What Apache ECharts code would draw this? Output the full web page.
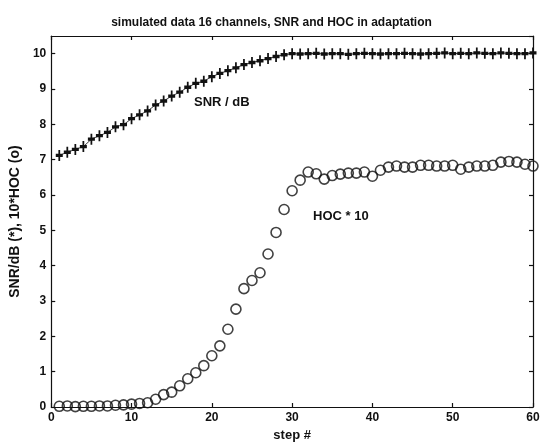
<!DOCTYPE html>
<html>
<head>
<meta charset="utf-8">
<title>SNR and HOC in adaptation</title>
<script src="https://cdn.jsdelivr.net/npm/echarts@6/dist/echarts.min.js"></script>
<style>
html, body { margin: 0; padding: 0; background: #fff; }
#chart { width: 543px; height: 447px; }
</style>
</head>
<body>
<div id="chart"></div>
<script>
// step index 1..60
var steps = [];
for (var i = 1; i <= 60; i++) steps.push(i);

// SNR in dB (+ markers)
var snr = [7.12, 7.21, 7.29, 7.37, 7.58, 7.68, 7.77, 7.93, 7.99, 8.16,
           8.27, 8.38, 8.55, 8.66, 8.80, 8.91, 9.05, 9.16, 9.22, 9.35,
           9.44, 9.52, 9.60, 9.69, 9.75, 9.80, 9.86, 9.92, 9.97, 10.0,
           9.99, 10.0, 10.01, 9.99, 10.0, 10.0, 9.98, 10.0, 10.01, 10.0,
           9.99, 10.0, 10.0, 10.01, 10.0, 9.99, 10.0, 10.01, 10.02, 10.0,
           10.01, 10.0, 10.02, 10.01, 10.0, 10.02, 10.01, 10.0, 10.0, 10.02];

// HOC * 10 (o markers)
var hoc = [0.02, 0.03, 0.01, 0.02, 0.02, 0.03, 0.03, 0.05, 0.06, 0.08,
           0.10, 0.12, 0.22, 0.35, 0.42, 0.60, 0.80, 0.97, 1.17, 1.45,
           1.73, 2.20, 2.77, 3.35, 3.58, 3.80, 4.33, 4.94, 5.59, 6.12,
           6.42, 6.65, 6.60, 6.45, 6.55, 6.59, 6.62, 6.62, 6.65, 6.53,
           6.70, 6.79, 6.82, 6.79, 6.79, 6.84, 6.84, 6.82, 6.82, 6.84,
           6.73, 6.79, 6.82, 6.82, 6.84, 6.93, 6.95, 6.93, 6.87, 6.82];

var xTicks = [0, 10, 20, 30, 40, 50, 60];
var yTicks = [0, 1, 2, 3, 4, 5, 6, 7, 8, 9, 10];

var font = '"Liberation Sans", Arial, sans-serif';
var ink = '#111';

function pairs(ys) {
    return steps.map(function (x, k) { return [x, ys[k]]; });
}

var axisBase = {
    axisLine: { show: true, onZero: false, lineStyle: { color: ink, width: 1.2 } },
    axisTick: { show: true, inside: true, length: 4, lineStyle: { color: ink, width: 1.2 } },
    splitLine: { show: false }
};

var chart = echarts.init(document.getElementById('chart'));
chart.setOption({
    animation: false,
    backgroundColor: '#fff',
    title: {
        text: 'simulated data 16 channels, SNR and HOC in adaptation',
        left: 'center',
        top: 12,
        textStyle: { fontFamily: font, fontSize: 12, fontWeight: 'bold', color: ink }
    },
    grid: { left: 51, right: 10, top: 36, bottom: 35 },
    xAxis: [
        Object.assign({}, axisBase, {
            type: 'value', position: 'bottom', min: 0, max: 60, interval: 10,
            name: 'step #', nameLocation: 'middle', nameGap: 22,
            nameTextStyle: { fontFamily: font, fontSize: 13, fontWeight: 'bold', color: ink },
            axisLabel: {
                margin: 5, fontFamily: font, fontSize: 12, fontWeight: 'bold', color: ink,
                formatter: function (v) { return xTicks.indexOf(v) >= 0 ? String(v) : ''; }
            }
        }),
        Object.assign({}, axisBase, {
            type: 'value', position: 'top', min: 0, max: 60, interval: 10,
            axisLabel: { show: false }
        })
    ],
    yAxis: [
        Object.assign({}, axisBase, {
            type: 'value', position: 'left', min: 0, max: 10.5, interval: 1,
            name: 'SNR/dB (*), 10*HOC (o)', nameLocation: 'middle', nameGap: 29,
            nameTextStyle: { fontFamily: font, fontSize: 14, fontWeight: 'bold', color: ink },
            axisLabel: {
                margin: 5, fontFamily: font, fontSize: 12, fontWeight: 'bold', color: ink,
                showMaxLabel: false,
                formatter: function (v) { return yTicks.indexOf(v) >= 0 ? String(v) : ''; }
            }
        }),
        Object.assign({}, axisBase, {
            type: 'value', position: 'right', min: 0, max: 10.5, interval: 1,
            axisLabel: { show: false }
        })
    ],
    graphic: [
        {
            type: 'text', left: 194, top: 96,
            style: { text: 'SNR / dB', fill: ink, font: 'bold 13px ' + font }
        },
        {
            type: 'text', left: 313, top: 210,
            style: { text: 'HOC * 10', fill: ink, font: 'bold 13px ' + font }
        }
    ],
    series: [
        {
            name: 'SNR',
            type: 'line',
            data: pairs(snr),
            symbol: 'path://M3,0H5V3.5H8V6.5H5V10H3V6.5H0V3.5H3Z',
            symbolSize: [7, 11],
            showAllSymbol: true,
            itemStyle: { color: ink },
            lineStyle: { color: ink, width: 0.8 }
        },
        {
            name: 'HOC',
            type: 'scatter',
            data: pairs(hoc),
            symbol: 'circle',
            symbolSize: 10,
            itemStyle: { color: 'rgba(0,0,0,0)', borderColor: ink, borderWidth: 1.6 }
        }
    ]
});
</script>
</body>
</html>
